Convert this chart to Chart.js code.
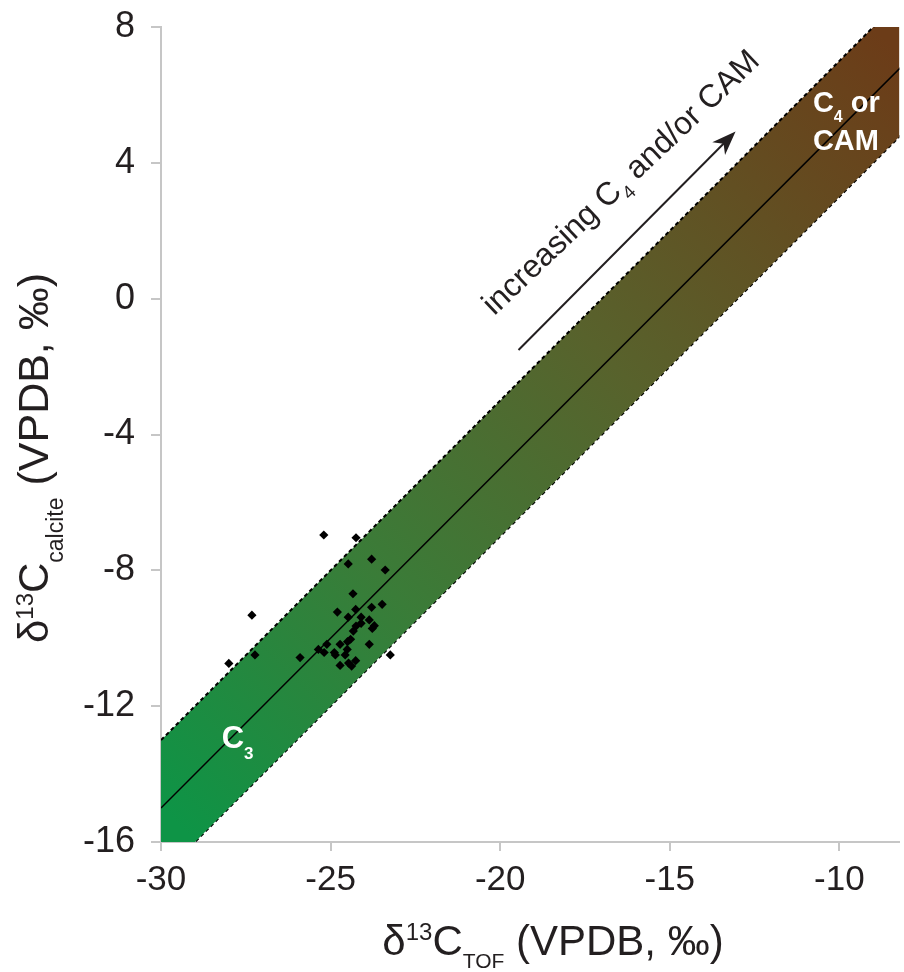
<!DOCTYPE html>
<html lang="en">
<head>
  <meta charset="UTF-8" />
  <title>d13C TOF vs calcite</title>
  <script src="https://cdn.jsdelivr.net/npm/chart.js"></script>
  <style>
    body {
      margin: 0;
      padding: 0;
      background: #ffffff;
    }
    .chart-container {
      width: 904px;
      height: 972px;
    }
  </style>
</head>
<body>
  <div class="chart-container">
    <canvas id="isoChart"></canvas>
  </div>

  <script>
    // Axis ticks
    const xTicks = [-30, -25, -20, -15, -10];
    const yTicks = [-16, -12, -8, -4, 0, 4, 8];

    // Measured samples (TOF vs calcite)
    const tofX = [-25.20, -24.25, -24.48, -23.79, -23.39, -27.32, -24.34, -23.48, -23.79, -24.80,
                  -24.26, -24.48, -24.10, -23.86, -24.10, -24.25, -23.77, -23.71, -24.33, -24.41,
                  -24.50, -23.86, -24.72, -24.51, -25.11, -25.36, -25.19, -24.89, -24.86, -24.57,
                  -27.23, -25.90, -23.24, -24.26, -24.72, -24.47, -24.38, -28.00];
    const calciteY = [-6.96, -7.04, -7.81, -7.67, -7.99, -9.32, -8.69, -9.00, -9.09, -9.23,
                      -9.15, -9.38, -9.38, -9.46, -9.56, -9.64, -9.71, -9.63, -9.79, -10.03,
                      -10.10, -10.18, -10.18, -10.33, -10.18, -10.33, -10.42, -10.42, -10.49, -10.49,
                      -10.49, -10.57, -10.49, -10.66, -10.80, -10.73, -10.82, -10.74];

    // Equilibrium band (centre line +/- 2 per mil)
    const bandX = [-30, -8];
    const bandUpper = [-13, 9];
    const bandCenter = [-15, 7];
    const bandLower = [-17, 5];

    const FONT = "'Liberation Sans', Arial, sans-serif";
    const TEXT_COLOR = '#231f20';
    const AXIS_COLOR = '#c6c6c6';

    const toPoints = (xs, ys) => xs.map((x, i) => ({ x: x, y: ys[i] }));

    // draw a run of text pieces (for sub/superscripts)
    function drawParts(ctx, parts, x, y, align) {
      let total = 0;
      parts.forEach(p => {
        ctx.font = p.font;
        p.w = ctx.measureText(p.text).width;
        total += p.w;
      });
      let cx = align === 'center' ? x - total / 2 : x;
      parts.forEach(p => {
        ctx.font = p.font;
        ctx.fillText(p.text, cx, y + (p.dy || 0));
        cx += p.w;
      });
    }

    // band gradient: green (C3) to brown (C4/CAM) along the line
    function bandGradient(context) {
      const chart = context.chart;
      if (!chart.chartArea) return '#2e7d32';
      const xs = chart.scales.x, ys = chart.scales.y;
      const g = chart.ctx.createLinearGradient(
        xs.getPixelForValue(bandX[0]), ys.getPixelForValue(bandCenter[0]),
        xs.getPixelForValue(bandX[1]), ys.getPixelForValue(bandCenter[1]));
      g.addColorStop(0, 'rgb(14,148,70)');
      g.addColorStop(0.3, 'rgb(58,124,56)');
      g.addColorStop(0.6, 'rgb(88,98,44)');
      g.addColorStop(1, 'rgb(108,60,24)');
      return g;
    }

    // Titles and labels drawn on top of the chart
    const annotations = {
      id: 'annotations',
      afterDraw(chart) {
        const ctx = chart.ctx;
        const xs = chart.scales.x, ys = chart.scales.y;
        ctx.save();
        ctx.textAlign = 'left';
        ctx.textBaseline = 'alphabetic';

        // x axis title
        ctx.fillStyle = TEXT_COLOR;
        drawParts(ctx, [
          { text: 'δ', font: '42px ' + FONT },
          { text: '13', font: '24px ' + FONT, dy: -15 },
          { text: 'C', font: '42px ' + FONT },
          { text: 'TOF', font: '21px ' + FONT, dy: 13 },
          { text: ' (VPDB, ‰)', font: '42px ' + FONT }
        ], 553, 955, 'center');

        // y axis title
        ctx.save();
        ctx.translate(48, 458);
        ctx.rotate(-Math.PI / 2);
        drawParts(ctx, [
          { text: 'δ', font: '42px ' + FONT },
          { text: '13', font: '24px ' + FONT, dy: -15 },
          { text: 'C', font: '42px ' + FONT },
          { text: 'calcite', font: '23px ' + FONT, dy: 15 },
          { text: ' (VPDB, ‰)', font: '43px ' + FONT }
        ], 0, 0, 'center');
        ctx.restore();

        // C3 label
        ctx.fillStyle = '#ffffff';
        drawParts(ctx, [
          { text: 'C', font: 'bold 31px ' + FONT },
          { text: '3', font: 'bold 17px ' + FONT, dy: 11 }
        ], xs.getPixelForValue(-28.21), ys.getPixelForValue(-13.23), 'left');

        // C4 or CAM label
        const cx = xs.getPixelForValue(-10.78);
        drawParts(ctx, [
          { text: 'C', font: 'bold 29px ' + FONT },
          { text: '4', font: 'bold 16px ' + FONT, dy: 10 },
          { text: ' or', font: 'bold 29px ' + FONT }
        ], cx, ys.getPixelForValue(5.50), 'left');
        ctx.font = 'bold 29px ' + FONT;
        ctx.fillText('CAM', cx, ys.getPixelForValue(4.38));

        // arrow
        const ax0 = xs.getPixelForValue(-19.46), ay0 = ys.getPixelForValue(-1.51);
        const ax1 = xs.getPixelForValue(-13.06), ay1 = ys.getPixelForValue(4.92);
        const ang = Math.atan2(ay1 - ay0, ax1 - ax0);
        ctx.strokeStyle = TEXT_COLOR;
        ctx.fillStyle = TEXT_COLOR;
        ctx.lineWidth = 2;
        ctx.beginPath();
        ctx.moveTo(ax0, ay0);
        ctx.lineTo(ax1 - 14 * Math.cos(ang), ay1 - 14 * Math.sin(ang));
        ctx.stroke();
        ctx.save();
        ctx.translate(ax1, ay1);
        ctx.rotate(ang);
        ctx.beginPath();
        ctx.moveTo(0, 0);
        ctx.lineTo(-24, -9);
        ctx.lineTo(-17, 0);
        ctx.lineTo(-24, 9);
        ctx.closePath();
        ctx.fill();
        ctx.restore();

        // rotated note
        ctx.save();
        ctx.translate(xs.getPixelForValue(-16.24), ys.getPixelForValue(3.21));
        ctx.rotate(-43.5 * Math.PI / 180);
        drawParts(ctx, [
          { text: 'increasing C', font: '32px ' + FONT },
          { text: '4', font: '19px ' + FONT, dy: 9 },
          { text: ' and/or CAM', font: '32px ' + FONT }
        ], 0, 0, 'center');
        ctx.restore();

        ctx.restore();
      }
    };

    const config = {
      type: 'scatter',
      data: {
        datasets: [
          {
            label: 'Samples',
            data: toPoints(tofX, calciteY),
            pointStyle: 'rectRot',
            pointRadius: 4.6,
            backgroundColor: '#000000',
            borderColor: '#000000',
            borderWidth: 0,
            order: 0
          },
          {
            label: 'Upper',
            data: toPoints(bandX, bandUpper),
            showLine: true,
            pointRadius: 0,
            borderColor: '#000000',
            borderWidth: 2,
            borderDash: [4, 3],
            backgroundColor: bandGradient,
            fill: '+1',
            order: 2
          },
          {
            label: 'Lower',
            data: toPoints(bandX, bandLower),
            showLine: true,
            pointRadius: 0,
            borderColor: '#000000',
            borderWidth: 2,
            borderDash: [4, 3],
            fill: false,
            order: 2
          },
          {
            label: 'Centre',
            data: toPoints(bandX, bandCenter),
            showLine: true,
            pointRadius: 0,
            borderColor: '#000000',
            borderWidth: 1.5,
            fill: false,
            order: 1
          }
        ]
      },
      options: {
        responsive: true,
        maintainAspectRatio: false,
        animation: false,
        layout: { padding: { top: 27, right: 0, left: 0, bottom: 0 } },
        plugins: {
          legend: { display: false },
          tooltip: { enabled: false }
        },
        scales: {
          x: {
            type: 'linear',
            min: -30,
            max: -8.23,
            afterBuildTicks: s => { s.ticks = xTicks.map(v => ({ value: v })); },
            afterFit: s => { s.height = 130; s.paddingRight = 0; },
            grid: { drawOnChartArea: false, color: AXIS_COLOR, lineWidth: 2, tickLength: 9 },
            border: { color: AXIS_COLOR, width: 2 },
            ticks: {
              color: TEXT_COLOR,
              font: { family: FONT, size: 35 },
              padding: 8,
              maxRotation: 0
            }
          },
          y: {
            type: 'linear',
            min: -16,
            max: 8,
            afterBuildTicks: s => { s.ticks = yTicks.map(v => ({ value: v })); },
            afterFit: s => { s.width = 161; s.paddingTop = 0; s.paddingBottom = 0; },
            grid: { drawOnChartArea: false, color: AXIS_COLOR, lineWidth: 2, tickLength: 10 },
            border: { color: AXIS_COLOR, width: 2 },
            ticks: {
              color: TEXT_COLOR,
              font: { family: FONT, size: 36 },
              padding: 16
            }
          }
        }
      },
      plugins: [annotations]
    };

    const isoChart = new Chart(document.getElementById('isoChart').getContext('2d'), config);
  </script>
</body>
</html>
